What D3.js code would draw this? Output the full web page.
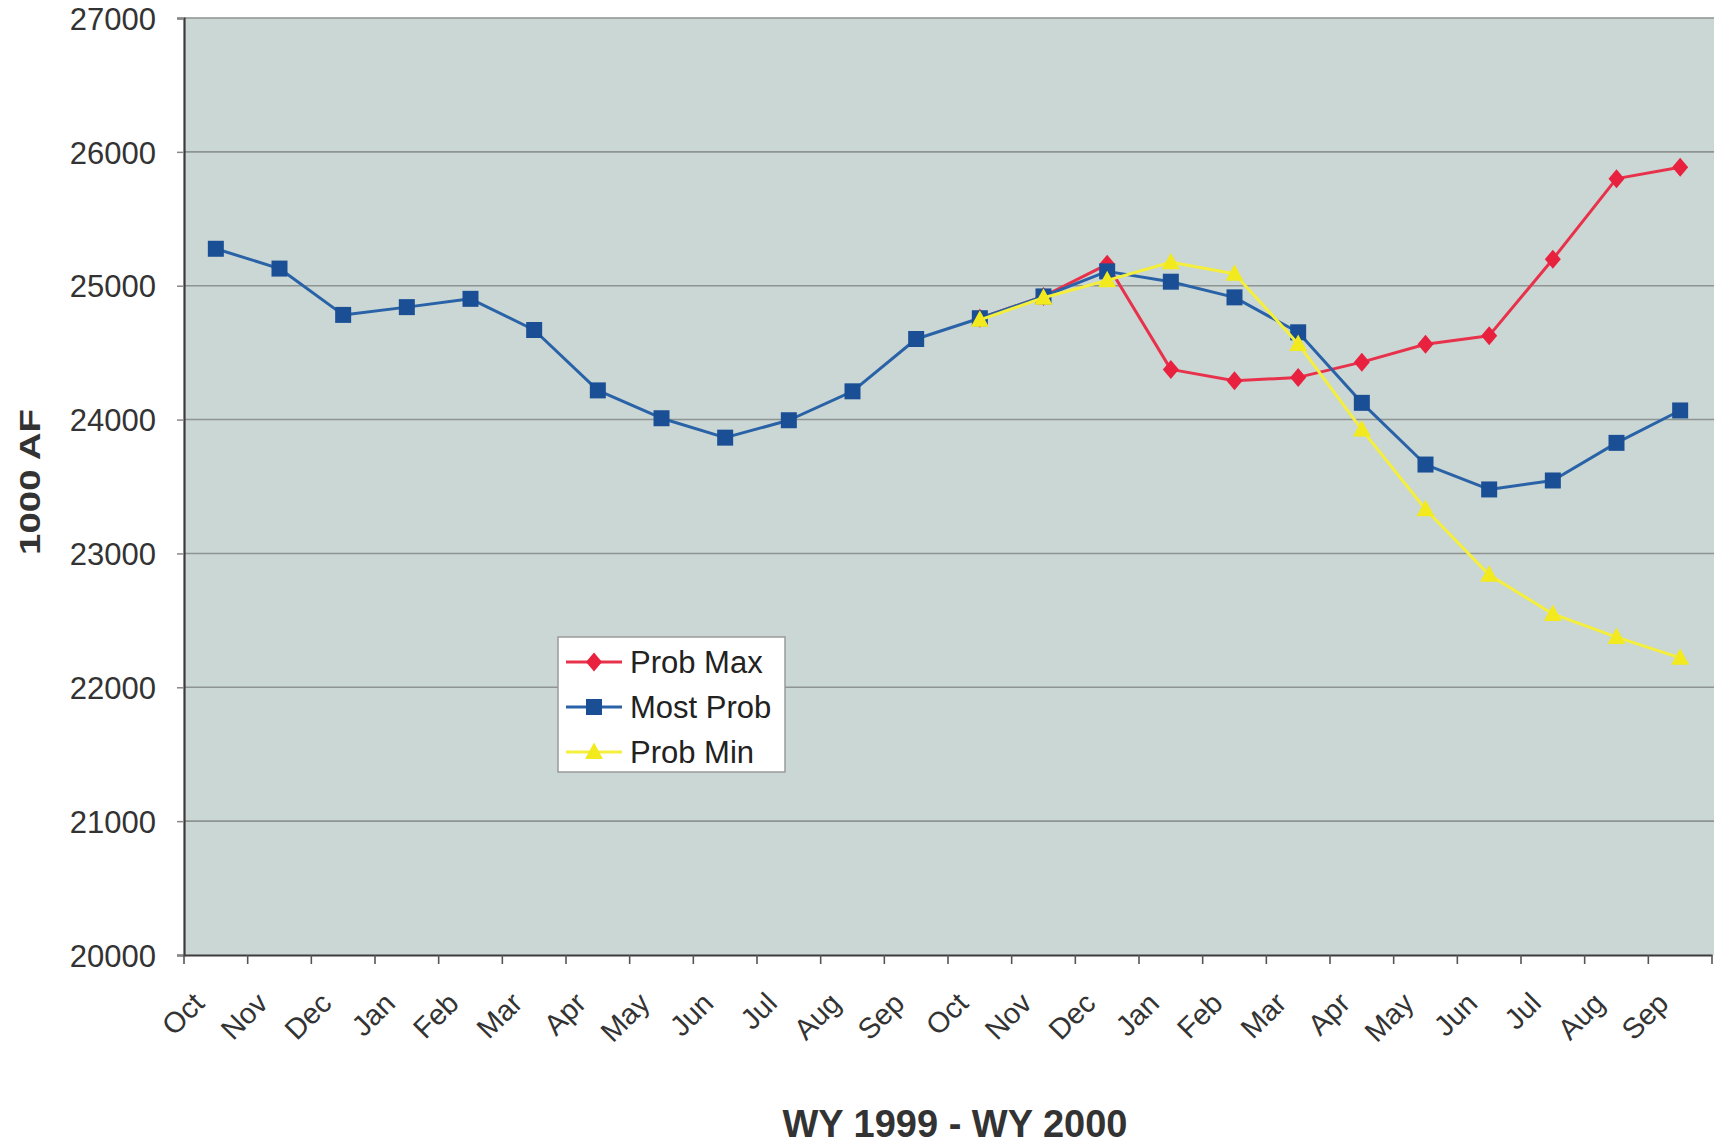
<!DOCTYPE html>
<html>
<head>
<meta charset="utf-8">
<script src="https://cdn.jsdelivr.net/npm/d3@7"></script>
<style>
  html, body { margin: 0; padding: 0; background: #ffffff; }
  svg { display: block; }
  text { font-family: "Liberation Sans", Arial, sans-serif; }
</style>
</head>
<body>
<svg id="chart" width="1714" height="1145"></svg>
<script>
const months = ["Oct","Nov","Dec","Jan","Feb","Mar","Apr","May","Jun","Jul","Aug","Sep",
                "Oct","Nov","Dec","Jan","Feb","Mar","Apr","May","Jun","Jul","Aug","Sep"];
const mostProb = [25276, 25128, 24782, 24840, 24902, 24669, 24218, 24010, 23865, 23995, 24211, 24602,
                  24757, 24920, 25107, 25030, 24913, 24652, 24125, 23664, 23478, 23545, 23826, 24068];
const probMax  = [null, null, null, null, null, null, null, null, null, null, null, null,
                  24757, 24920, 25160, 24375, 24290, 24315, 24429, 24563, 24627, 25198, 25800, 25885];
const probMin  = [null, null, null, null, null, null, null, null, null, null, null, null,
                  24745, 24910, 25040, 25175, 25090, 24565, 23925, 23330, 22840, 22548, 22375, 22220];
const yTicks = [20000, 21000, 22000, 23000, 24000, 25000, 26000, 27000];
const seriesNames = ["Prob Max", "Most Prob", "Prob Min"];
const xTitle = "WY 1999 - WY 2000";
const yTitle = "1000 AF";

const svg = d3.select("#chart");
const L = 184, R = 1712, T = 18, B = 955;

const x = d3.scaleBand().domain(d3.range(months.length)).range([L, R]).padding(0);
const y = d3.scaleLinear().domain([20000, 27000]).range([B, T]);

// plot background
svg.append("rect").attr("x", L).attr("y", T).attr("width", R - L + 2).attr("height", B - T)
  .attr("fill", "#cbd7d4");

// gridlines
svg.append("g").selectAll("line").data(yTicks.filter(d => d > 20000)).join("line")
  .attr("x1", L).attr("x2", R + 2)
  .attr("y1", d => y(d)).attr("y2", d => y(d))
  .attr("stroke", "#8d9492").attr("stroke-width", 1.6);

// y axis
const yAxis = d3.axisLeft(y).tickValues(yTicks).tickSize(7).tickPadding(21).tickFormat(d3.format("d"));
const gy = svg.append("g").attr("transform", `translate(${L},0)`).call(yAxis);
gy.select(".domain").attr("stroke", "#3c3c3c").attr("stroke-width", 2.2);
gy.selectAll(".tick line").attr("stroke", "#888").attr("stroke-width", 1.5);
gy.selectAll(".tick text").attr("font-size", 31).attr("fill", "#333")
  .attr("font-family", "Liberation Sans, Arial, sans-serif").attr("dy", "0.36em");

// x axis (labels)
const xAxis = d3.axisBottom(x).tickSize(0).tickFormat(i => months[i]);
const gx = svg.append("g").attr("transform", `translate(0,${B})`).call(xAxis);
gx.select(".domain").attr("stroke", "#3c3c3c").attr("stroke-width", 2.2);
gx.selectAll(".tick text")
  .attr("font-size", 29).attr("fill", "#333")
  .attr("font-family", "Liberation Sans, Arial, sans-serif")
  .attr("text-anchor", "end")
  .attr("x", 0).attr("y", 0).attr("dy", 0)
  .attr("transform", "translate(-10,50) rotate(-45)");

// x tick marks at band boundaries
const edges = d3.range(months.length + 1).map(i => L + i * x.bandwidth());
svg.append("g").selectAll("line").data(edges).join("line")
  .attr("x1", d => d).attr("x2", d => d)
  .attr("y1", B).attr("y2", B + 9)
  .attr("stroke", "#555").attr("stroke-width", 1.6);

// series
const cx = i => x(i) + x.bandwidth() / 2;
const line = d3.line().defined(d => d.v != null).x(d => cx(d.i)).y(d => y(d.v));
const series = [
  { name: seriesNames[0], vals: probMax, color: "#e8324c", mcolor: "#e8213f", marker: "diamond" },
  { name: seriesNames[1], vals: mostProb, color: "#2a62a8", mcolor: "#1a4f96", marker: "square" },
  { name: seriesNames[2], vals: probMin, color: "#f4ee3c", mcolor: "#f2ea1e", marker: "triangle" }
];
const markerPath = {
  diamond: "M0,-9.5L8,0L0,9.5L-8,0Z",
  square: "M-8,-8H8V8H-8Z",
  triangle: "M0,-9.5L9,7H-9Z"
};

series.forEach(s => {
  const pts = s.vals.map((v, i) => ({ i, v }));
  const g = svg.append("g");
  g.append("path").datum(pts).attr("d", line)
    .attr("fill", "none").attr("stroke", s.color).attr("stroke-width", 3)
    .attr("stroke-linejoin", "round");
  g.selectAll("path.m").data(pts.filter(d => d.v != null)).join("path")
    .attr("class", "m")
    .attr("d", markerPath[s.marker])
    .attr("transform", d => `translate(${cx(d.i)},${y(d.v)})`)
    .attr("fill", s.mcolor);
});

// legend
const lg = svg.append("g");
lg.append("rect").attr("x", 558).attr("y", 637).attr("width", 227).attr("height", 135)
  .attr("fill", "#ffffff").attr("stroke", "#9a9a9a").attr("stroke-width", 1.5);
const legY = [662, 707, 752];
series.forEach((s, k) => {
  lg.append("line").attr("x1", 566).attr("x2", 622).attr("y1", legY[k]).attr("y2", legY[k])
    .attr("stroke", s.color).attr("stroke-width", 3);
  lg.append("path").attr("d", markerPath[s.marker])
    .attr("transform", `translate(594,${legY[k]})`).attr("fill", s.mcolor);
  lg.append("text").attr("x", 630).attr("y", legY[k]).attr("dy", "0.36em")
    .attr("font-size", 31).attr("fill", "#222").text(s.name);
});

// axis titles
svg.append("text").attr("x", 955).attr("y", 1137).attr("text-anchor", "middle")
  .attr("font-size", 38).attr("font-weight", "bold").attr("fill", "#333").text(xTitle);
svg.append("text").attr("transform", "translate(40,482) rotate(-90)")
  .attr("text-anchor", "middle").attr("font-size", 30).attr("font-weight", "bold")
  .attr("fill", "#333").attr("textLength", 146).attr("lengthAdjust", "spacingAndGlyphs")
  .text(yTitle);
</script>
</body>
</html>
